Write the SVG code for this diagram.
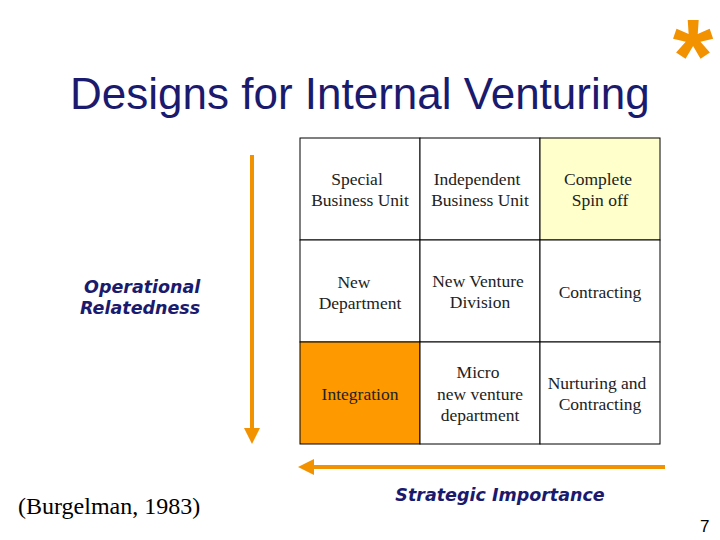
<svg xmlns="http://www.w3.org/2000/svg" width="720" height="540" viewBox="0 0 720 540">
<style>
.c{fill:#fff;stroke:#000;stroke-width:1}
.t{font-family:"Liberation Serif",serif;font-size:17.5px;fill:#222;text-anchor:middle}
.b{font-family:"DejaVu Sans",sans-serif;font-size:17.5px;font-weight:bold;font-style:italic;fill:#1a1a6e}
.a{stroke:#F39200;stroke-width:4;fill:none}
</style>
<defs><marker id="m" markerWidth="4" markerHeight="4" refX="2" refY="2" orient="auto"><path d="M0,0L4,2L0,4z" fill="#F39200"/></marker></defs>
<rect width="720" height="540" fill="#fff"/>
<text x="693" y="92" font-family="Liberation Sans,sans-serif" font-size="104" font-weight="bold" fill="#F39200" text-anchor="middle">*</text>
<text x="70" y="109" font-family="Liberation Sans,sans-serif" font-size="44" fill="#1a1a6e">Designs for Internal Venturing</text>
<g id="connectors">
<line class="a" x1="252" y1="155" x2="252" y2="436" marker-end="url(#m)"/>
<line class="a" x1="665" y1="467" x2="306" y2="467" marker-end="url(#m)"/>
</g>
<g id="n1"><rect class="c" x="300" y="138" width="120" height="102"/><text class="t" x="357" y="185">Special</text><text class="t" x="360" y="206">Business Unit</text></g>
<g id="n2"><rect class="c" x="420" y="138" width="120" height="102"/><text class="t" x="477" y="185">Independent</text><text class="t" x="480" y="206">Business Unit</text></g>
<g id="n3"><rect class="c" x="540" y="138" width="120" height="102" style="fill:#FFFFCC"/><text class="t" x="598" y="185">Complete</text><text class="t" x="600" y="206">Spin off</text></g>
<g id="n4"><rect class="c" x="300" y="240" width="120" height="102"/><text class="t" x="354" y="288">New</text><text class="t" x="360" y="309">Department</text></g>
<g id="n5"><rect class="c" x="420" y="240" width="120" height="102"/><text class="t" x="478" y="287">New Venture</text><text class="t" x="480" y="308">Division</text></g>
<g id="n6"><rect class="c" x="540" y="240" width="120" height="102"/><text class="t" x="600" y="298">Contracting</text></g>
<g id="n7"><rect class="c" x="300" y="342" width="120" height="102" style="fill:#FF9900"/><text class="t" x="360" y="400">Integration</text></g>
<g id="n8"><rect class="c" x="420" y="342" width="120" height="102"/><text class="t" x="478" y="378">Micro</text><text class="t" x="480" y="400">new venture</text><text class="t" x="480" y="421">department</text></g>
<g id="n9"><rect class="c" x="540" y="342" width="120" height="102"/><text class="t" x="597" y="389">Nurturing and</text><text class="t" x="600" y="410">Contracting</text></g>
<text class="b" x="84" y="293">Operational</text>
<text class="b" x="80" y="314">Relatedness</text>
<text class="b" x="500" y="501" text-anchor="middle">Strategic Importance</text>
<text x="18" y="514" font-family="Liberation Serif,serif" font-size="24" fill="#000">(Burgelman, 1983)</text>
<text x="700" y="532" font-family="Liberation Sans,sans-serif" font-size="17" fill="#000">7</text>
</svg>
